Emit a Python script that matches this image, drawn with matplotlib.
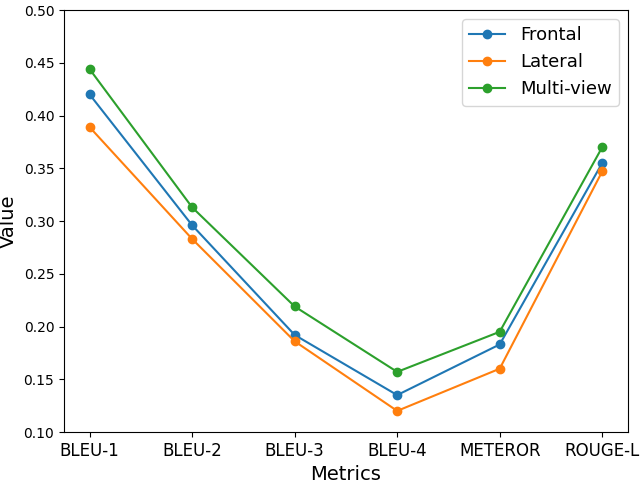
import matplotlib
matplotlib.use("Agg")
import matplotlib.pyplot as plt

metrics = ["BLEU-1", "BLEU-2", "BLEU-3", "BLEU-4", "METEROR", "ROUGE-L"]
frontal = [0.420, 0.296, 0.192, 0.135, 0.183, 0.355]
lateral = [0.389, 0.283, 0.186, 0.120, 0.160, 0.347]
multi_view = [0.444, 0.313, 0.219, 0.157, 0.195, 0.370]

fig, ax = plt.subplots(figsize=(6.4, 4.8), dpi=100)
ax.plot(metrics, frontal, marker="o", label="Frontal")
ax.plot(metrics, lateral, marker="o", label="Lateral")
ax.plot(metrics, multi_view, marker="o", label="Multi-view")

ax.set_ylim(0.10, 0.50)
ax.set_xlabel("Metrics", fontsize=14)
ax.set_ylabel("Value", fontsize=14)
ax.tick_params(axis="x", labelsize=12)
ax.legend(fontsize=13)
fig.subplots_adjust(left=0.1, right=0.981, top=0.979, bottom=0.1)
fig.savefig("out.png")
